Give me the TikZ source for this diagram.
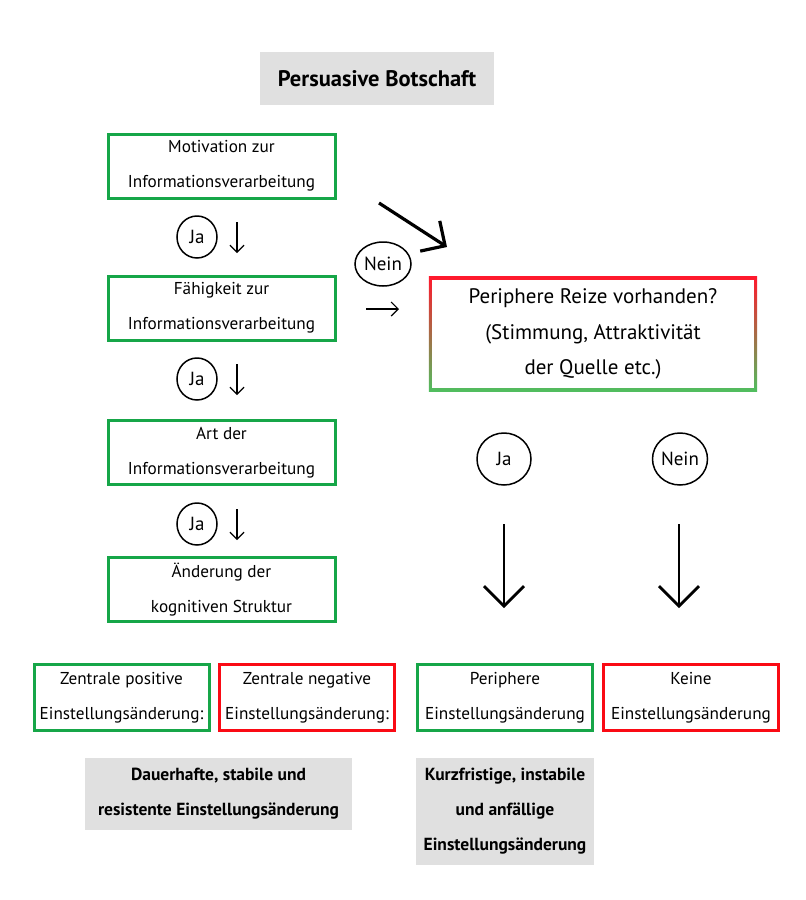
\documentclass[tikz,border=0pt]{standalone}
\usepackage{fontspec}
\setmainfont{PT Sans}
\usetikzlibrary{arrows.meta}
\pgfdeclarelayer{background}
\pgfsetlayers{background,main}
\definecolor{bgreen}{RGB}{22,166,72}
\definecolor{bred}{RGB}{250,10,20}
\definecolor{lgreen}{RGB}{80,190,95}
\definecolor{lred}{RGB}{255,25,45}
\definecolor{bgray}{RGB}{224,224,224}
\tikzset{
  x=1pt, y=-1pt,
  txt/.style={font=\fontsize{17.2}{35}\selectfont, align=center, inner sep=0pt},
  gbox/.style={txt, draw=bgreen, line width=3pt, minimum width=#1, minimum height=64pt},
  rbox/.style={txt, draw=bred, line width=3pt, minimum width=#1, minimum height=64pt},
  graybox/.style={fill=bgray, inner sep=0pt, align=center, font=\bfseries\fontsize{17.5}{35}\selectfont},
  ring/.style={draw, line width=1.5pt, ellipse, inner sep=0pt, font=\fontsize{19}{20}\selectfont},
  thinarr/.style={-{Straight Barb[length=7pt,width=14pt]}, line width=1.2pt},
  bigarr/.style={-{Straight Barb[length=18pt,width=36pt]}, line width=3.2pt},
}
\usetikzlibrary{shapes.geometric}
\begin{document}
\begin{tikzpicture}
\useasboundingbox (0,0) rectangle (806,900);
% title
\node (title) [graybox, minimum width=234pt, minimum height=53pt, font=\bfseries\fontsize{22.5}{24}\selectfont] at (377,78.5) {Persuasive Botschaft};
% left column
\node (b1) [gbox=227pt] at (221.5,166) {Motivation zur\\Informationsverarbeitung};
\node (b2) [gbox=227pt] at (221.5,308) {Fähigkeit zur\\Informationsverarbeitung};
\node (b3) [gbox=227pt] at (221.5,452.5) {Art der\\Informationsverarbeitung};
\node (b4) [gbox=227pt] at (221.5,589.5) {Änderung der\\kognitiven Struktur};
% Ja circles
\node (ja1) [ring, minimum width=40pt, minimum height=42pt] at (197,237) {Ja};
\node (ja2) [ring, minimum width=40pt, minimum height=42pt] at (197,379) {Ja};
\node (ja3) [ring, minimum width=40pt, minimum height=42pt] at (197,524) {Ja};
\coordinate (a1s) at (237,222); \coordinate (a1e) at (237,253);
\coordinate (a2s) at (237,364); \coordinate (a2e) at (237,395);
\coordinate (a3s) at (237,509); \coordinate (a3e) at (237,540);
\draw[thinarr] (a1s) -- (a1e);
\draw[thinarr] (a2s) -- (a2e);
\draw[thinarr] (a3s) -- (a3e);
% Nein
\node (nein) [ring, minimum width=56pt, minimum height=44pt] at (383,264) {Nein};
\coordinate (bas) at (379,203); \coordinate (bae) at (447,247);
\draw[bigarr] (bas) -- (bae);
\coordinate (sas) at (366,309); \coordinate (sae) at (399,309);
\draw[thinarr] (sas) -- (sae);
% peripheral box
\node (peri) [txt, font=\fontsize{21}{35.5}\selectfont, minimum width=328pt, minimum height=114pt] at (593,334) {Periphere Reize vorhanden?\\(Stimmung, Attraktivität\\der Quelle etc.)};
\begin{pgfonlayer}{background}
\shade[top color=lred, bottom color=lgreen, middle color=lred!50!lgreen] (peri.north west) rectangle (peri.south east);
\fill[white] ([shift={(3,3)}]peri.north west) rectangle ([shift={(-3,-3)}]peri.south east);
\end{pgfonlayer}
% Ja / Nein right
\node (ja4) [ring, minimum width=54pt, minimum height=52pt] at (504,459) {Ja};
\node (nein2) [ring, minimum width=55pt, minimum height=52pt] at (680,459) {Nein};
\coordinate (d1s) at (504,524); \coordinate (d1e) at (504,608);
\coordinate (d2s) at (679,524); \coordinate (d2e) at (679,608);
\draw[-{Straight Barb[length=20pt,width=40pt]}, line width=2.8pt] (d1s) -- (d1e);
\draw[-{Straight Barb[length=20pt,width=40pt]}, line width=2.8pt] (d2s) -- (d2e);
% bottom row
\node (zp) [gbox=175pt, minimum height=66pt] at (121.5,697.5) {Zentrale positive\\Einstellungsänderung:};
\node (zn) [rbox=175pt, minimum height=66pt] at (307,697.5) {Zentrale negative\\Einstellungsänderung:};
\node (pe) [gbox=175pt, minimum height=66pt] at (505,697.5) {Periphere\\Einstellungsänderung};
\node (ke) [rbox=175pt, minimum height=66pt] at (691,697.5) {Keine\\Einstellungsänderung};
% gray result boxes
\node (g1) [graybox, minimum width=267pt, minimum height=72pt] at (218.5,794) {Dauerhafte, stabile und\\resistente Einstellungsänderung};
\node (g2) [graybox, minimum width=178pt, minimum height=107pt] at (505,811.5) {Kurzfristige, instabile\\und anfällige\\Einstellungsänderung};
\end{tikzpicture}
\end{document}
